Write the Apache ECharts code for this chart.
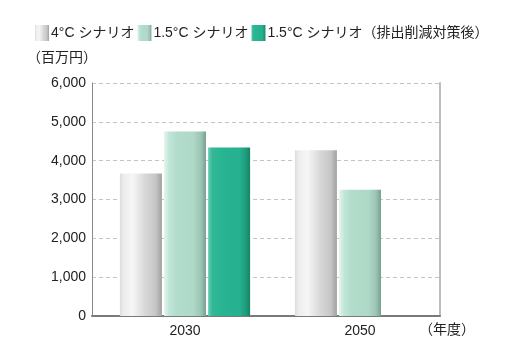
<!DOCTYPE html>
<html><head><meta charset="utf-8">
<script src="https://cdn.jsdelivr.net/npm/echarts@6/dist/echarts.min.js"></script>
<style>html,body{margin:0;padding:0;background:#fff}#c{width:508px;height:360px}</style>
</head><body><div id="c"></div>
<script>
const categories = ['2030', '2050'];
const seriesNames = ['4°C シナリオ', '1.5°C シナリオ', '1.5°C シナリオ（排出削減対策後）'];
const s4C = [3670, 4270];
const s15C = [4750, 3250];
const s15CAfter = [4340, null];
const yMin = 0, yMax = 6000, yInterval = 1000;

const FONT = '"Liberation Sans", "Noto Sans CJK JP", sans-serif';
function grad(stops){return {type:'linear',x:0,y:0,x2:1,y2:0,colorStops:stops.map(s=>({offset:s[0],color:s[1]}))};}
const gGray = grad([[0,'#dcdcdc'],[0.08,'#ececec'],[0.3,'#f6f6f6'],[0.6,'#d8d8d8'],[0.85,'#c6c6c6'],[1,'#a0a0a0']]);
const gLight = grad([[0,'#e6f6f0'],[0.12,'#c2e6d8'],[0.3,'#b2dccb'],[0.7,'#afd8c7'],[0.88,'#9cc5b5'],[1,'#76a090']]);
const gGreen = grad([[0,'#6ccfb5'],[0.1,'#34b896'],[0.3,'#28b592'],[0.75,'#26b190'],[0.9,'#1f9c7c'],[1,'#168266']]);

const chart = echarts.init(document.getElementById('c'), null, {renderer:'canvas'});
chart.setOption({
  animation:false,
  textStyle:{fontFamily:FONT},
  legend:{
    left:30, top:20, itemWidth:14, itemHeight:16, itemGap:3,
    textStyle:{fontFamily:FONT,fontSize:14,color:'#222',padding:[0,0,0,-3]},
    data:[
      {name:seriesNames[0],icon:'rect',itemStyle:{color:gGray}},
      {name:seriesNames[1],icon:'rect',itemStyle:{color:gLight}},
      {name:seriesNames[2],icon:'rect',itemStyle:{color:gGreen}}
    ]
  },
  grid:[
    {left:92, right:68, top:83, bottom:44},
    {left:97.5, right:60.5, top:83, bottom:44}
  ],
  xAxis:[
    {type:'category', gridIndex:0, data:categories,
     axisLine:{show:true,lineStyle:{color:'#7a7a7a',width:2}},
     axisTick:{show:false}, axisLabel:{show:false},
     name:'（年度）', nameLocation:'end', nameGap:-21,
     nameTextStyle:{fontFamily:FONT,fontSize:14,color:'#222',verticalAlign:'top',padding:[7,0,0,0]}},
    {type:'category', gridIndex:1, data:categories,
     axisLine:{show:false}, axisTick:{show:false},
     axisLabel:{fontFamily:FONT,fontSize:14,color:'#222',margin:8}}
  ],
  yAxis:[
    {type:'value', gridIndex:0, min:yMin, max:yMax, interval:yInterval,
     axisLine:{show:true,lineStyle:{color:'#8a8a8a',width:1}}, axisTick:{show:false},
     axisLabel:{fontFamily:FONT,fontSize:14,color:'#222',margin:6,
       formatter:v=>v.toLocaleString('en-US')},
     splitLine:{show:true,lineStyle:{color:'#c4c4c4',type:[4,3],width:1}},
     name:'（百万円）', nameLocation:'end', nameGap:18,
     nameTextStyle:{fontFamily:FONT,fontSize:14,color:'#222',align:'right',padding:[0,-5,0,0]}},
    {type:'value', gridIndex:0, position:'right', min:yMin, max:yMax, interval:yInterval,
     axisLine:{show:true,lineStyle:{color:'#bdbdbd',width:2}}, axisTick:{show:false},
     axisLabel:{show:false}, splitLine:{show:false}},
    {type:'value', gridIndex:1, min:yMin, max:yMax, interval:yInterval, show:false}
  ],
  series:[
    {name:seriesNames[0],type:'bar',xAxisIndex:1,yAxisIndex:2,data:s4C,barWidth:42,barGap:'5%',itemStyle:{color:gGray},z:3},
    {name:seriesNames[1],type:'bar',xAxisIndex:1,yAxisIndex:2,data:s15C,barWidth:42,barGap:'5%',itemStyle:{color:gLight},z:3},
    {name:seriesNames[2],type:'bar',xAxisIndex:1,yAxisIndex:2,data:s15CAfter,barWidth:42,barGap:'5%',itemStyle:{color:gGreen},z:3}
  ]
});
</script></body></html>
